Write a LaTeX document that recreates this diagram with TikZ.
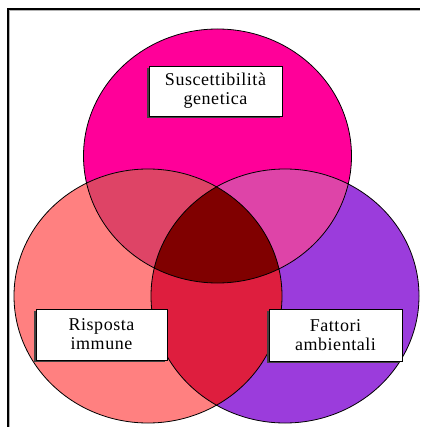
\documentclass[tikz,border=0pt]{standalone}
\usepackage{fontspec}
\setmainfont{Liberation Serif}[LetterSpace=3]
\usepackage{tikz}
\usetikzlibrary{shadows}

\definecolor{genc}{RGB}{255,0,153}
\definecolor{immc}{RGB}{255,128,128}
\definecolor{ambc}{RGB}{155,60,220}
\definecolor{genimm}{RGB}{222,68,102}
\definecolor{genamb}{RGB}{222,68,168}
\definecolor{immamb}{RGB}{222,30,62}
\definecolor{allc}{RGB}{128,0,0}

\begin{document}
\begin{tikzpicture}[x=1pt, y=-1pt,
  set/.style={x radius=134, y radius=127},
  labelbox/.style={rectangle, draw, thin, fill=white, inner sep=0pt, align=center,
    font=\fontsize{18}{19}\selectfont,
    drop shadow={shadow xshift=-2pt, shadow yshift=-2pt, fill=black!75, opacity=1}}]
\useasboundingbox (0,0) rectangle (420,427);
% frame
\draw [gray!60, line width=1pt] (9.5,427) -- (9.5,10.5) -- (420,10.5);
\draw [line width=1.5pt] (8,427) -- (8,9) -- (420,9);
% centres
\coordinate (gen) at (217.5,156);
\coordinate (imm) at (148,296);
\coordinate (amb) at (285,296);
% sets
\fill [genc] (gen) ellipse [set];
\fill [immc] (imm) ellipse [set];
\fill [ambc] (amb) ellipse [set];
\begin{scope}
\clip (gen) ellipse [set];
\fill [genimm] (imm) ellipse [set];
\fill [genamb] (amb) ellipse [set];
\end{scope}
\begin{scope}
\clip (imm) ellipse [set];
\fill [immamb] (amb) ellipse [set];
\clip (amb) ellipse [set];
\fill [allc] (gen) ellipse [set];
\end{scope}
\draw [line width=0.8pt] (gen) ellipse [set] (imm) ellipse [set] (amb) ellipse [set];
% labels
\node [labelbox, minimum width=133pt, minimum height=50pt] (genetica) at (215.5,91) {Suscettibilità\\genetica};
\node [labelbox, minimum width=131pt, minimum height=51pt] (immune) at (101.5,334.5) {Risposta\\immune};
\node [labelbox, minimum width=133pt, minimum height=52pt] (ambiente) at (335.5,335) {Fattori\\ambientali};
\end{tikzpicture}
\end{document}
